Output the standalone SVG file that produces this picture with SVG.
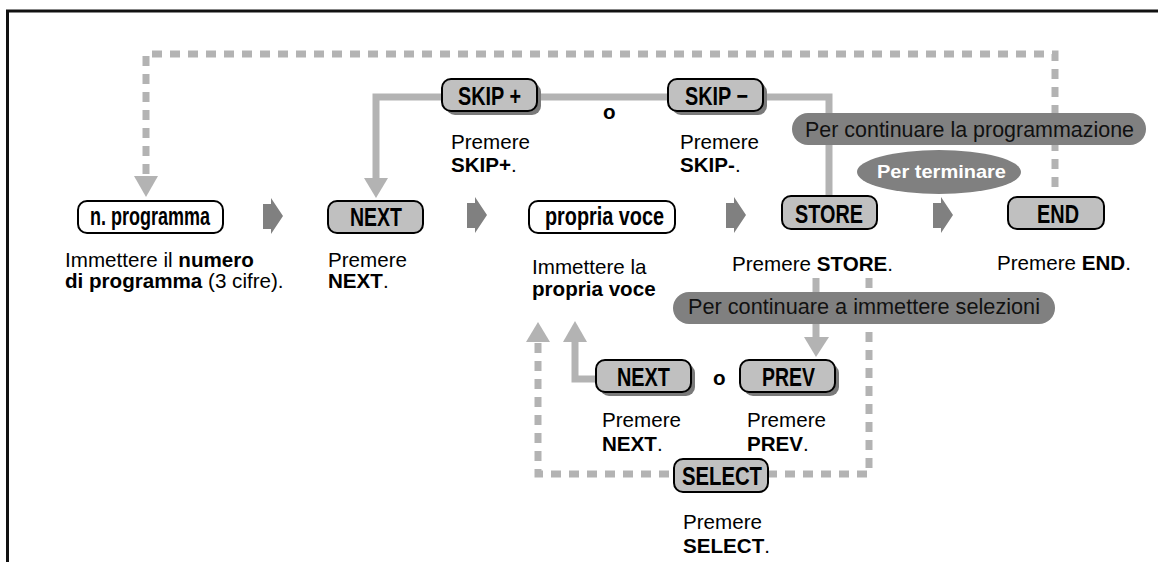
<svg xmlns="http://www.w3.org/2000/svg" width="1158" height="562" viewBox="0 0 1158 562">
<style>
.frame{fill:none;stroke:#111;stroke-width:3}
.btn{fill:#c0c0c0;stroke:#000;stroke-width:2}
.in{fill:#fff;stroke:#000;stroke-width:2}
.sh{fill:#7a7a7a}
.lbl{font-family:"Liberation Sans Narrow","Liberation Sans",Arial,sans-serif;font-weight:bold;font-size:26px;fill:#000}
.t{font-family:"Liberation Sans",Arial,sans-serif;font-size:20.6px;fill:#000}
.b{font-weight:bold}
.ln{fill:none;stroke:#b3b3b3;stroke-width:7}
.dash{stroke-dasharray:10 8}
.ah{fill:#b3b3b3}
.pill{fill:#808080}
.chev{fill:#808080}
.pt{font-family:"Liberation Sans",Arial,sans-serif;font-size:22px;fill:#111}
.pw{font-family:"Liberation Sans",Arial,sans-serif;font-size:19px;font-weight:bold;fill:#fff}
</style>
<defs>
<polygon id="chev" points="0,6 8,6 8,0 20,18 8,36 8,31 0,31"/>
</defs>
<rect width="1158" height="562" fill="#fff"/>
<path class="frame" d="M7.5,562 V11 H1158"/>

<g id="connectors">
<path class="ln dash" d="M1055,187 V54 H146 V176"/>
<polygon class="ah" points="134,176 158,176 146,197"/>
<path class="ln" d="M829,196 V97 H376 V178"/>
<polygon class="ah" points="364,178 388,178 376,198"/>
<path class="ln" d="M816,278 V337"/>
<polygon class="ah" points="804,337 829,337 816,357"/>
<path class="ln dash" d="M869,278 V474 H538 V342"/>
<polygon class="ah" points="526,342 550,342 538,322"/>
<path class="ln" d="M596,379 H575 V342"/>
<polygon class="ah" points="563,342 587,342 575,321"/>
<use href="#chev" class="chev" x="263" y="198"/>
<use href="#chev" class="chev" x="467" y="197"/>
<use href="#chev" class="chev" x="726" y="197"/>
<use href="#chev" class="chev" x="933" y="197"/>
</g>

<g id="pill-continue-prog">
<rect class="pill" x="792" y="113" width="354" height="32" rx="16"/>
<text class="pt" x="805" y="137" textLength="329" lengthAdjust="spacingAndGlyphs">Per continuare la programmazione</text>
</g>
<g id="pill-terminate">
<ellipse class="pill" cx="939" cy="172" rx="82" ry="22"/>
<text class="pw" x="877" y="178" textLength="129" lengthAdjust="spacingAndGlyphs">Per terminare</text>
</g>
<g id="pill-continue-sel">
<rect class="pill" x="673" y="292" width="382" height="32" rx="16"/>
<text class="pt" x="688" y="314" textLength="352" lengthAdjust="spacingAndGlyphs">Per continuare a immettere selezioni</text>
</g>

<g id="n-programma">
<rect class="in" x="78" y="201" width="145" height="32" rx="9"/>
<text class="lbl" x="90" y="225" textLength="120" lengthAdjust="spacingAndGlyphs">n. programma</text>
<text class="t" x="65" y="267">Immettere il <tspan class="b">numero</tspan></text>
<text class="t" x="65" y="288"><tspan class="b">di programma</tspan> (3 cifre).</text>
</g>

<g id="next-top">
<rect class="btn" x="328" y="201" width="95" height="32" rx="9"/>
<text class="lbl" x="350" y="226" textLength="52" lengthAdjust="spacingAndGlyphs">NEXT</text>
<text class="t" x="328" y="267">Premere</text>
<text class="t" x="328" y="288"><tspan class="b">NEXT</tspan>.</text>
</g>

<g id="skip-plus">
<rect class="sh" x="446" y="83" width="95" height="32" rx="9"/>
<rect class="btn" x="442" y="79" width="95" height="32" rx="9"/>
<text class="lbl" x="458" y="105" textLength="63" lengthAdjust="spacingAndGlyphs">SKIP +</text>
<text class="t" x="451" y="149">Premere</text>
<text class="t" x="451" y="172"><tspan class="b">SKIP+</tspan>.</text>
</g>

<text class="t b" x="603" y="119" font-size="19">o</text>

<g id="skip-minus">
<rect class="sh" x="672" y="83" width="95" height="32" rx="9"/>
<rect class="btn" x="668" y="79" width="95" height="32" rx="9"/>
<text class="lbl" x="685" y="105" textLength="63" lengthAdjust="spacingAndGlyphs">SKIP −</text>
<text class="t" x="680" y="149">Premere</text>
<text class="t" x="680" y="172"><tspan class="b">SKIP-</tspan>.</text>
</g>

<g id="propria-voce">
<rect class="in" x="529" y="201" width="146" height="32" rx="9"/>
<text class="lbl" x="545" y="225" textLength="119" lengthAdjust="spacingAndGlyphs">propria voce</text>
<text class="t" x="532" y="274">Immettere la</text>
<text class="t b" x="532" y="296">propria voce</text>
</g>

<g id="store">
<rect class="btn" x="782" y="196" width="95" height="33" rx="9"/>
<text class="lbl" x="795" y="223" textLength="68" lengthAdjust="spacingAndGlyphs">STORE</text>
<text class="t" x="732" y="271">Premere <tspan class="b">STORE</tspan>.</text>
</g>

<g id="end">
<rect class="btn" x="1008" y="197" width="96" height="32" rx="9"/>
<text class="lbl" x="1037" y="223" textLength="42" lengthAdjust="spacingAndGlyphs">END</text>
<text class="t" x="997" y="270">Premere <tspan class="b">END</tspan>.</text>
</g>

<g id="next-bottom">
<rect class="sh" x="600" y="364" width="95" height="32" rx="9"/>
<rect class="btn" x="596" y="360" width="95" height="32" rx="9"/>
<text class="lbl" x="617" y="386" textLength="53" lengthAdjust="spacingAndGlyphs">NEXT</text>
<text class="t" x="602" y="427">Premere</text>
<text class="t" x="602" y="451"><tspan class="b">NEXT</tspan>.</text>
</g>

<text class="t b" x="713" y="385" font-size="19">o</text>

<g id="prev">
<rect class="sh" x="744" y="364" width="95" height="32" rx="9"/>
<rect class="btn" x="740" y="360" width="95" height="32" rx="9"/>
<text class="lbl" x="762" y="386" textLength="53" lengthAdjust="spacingAndGlyphs">PREV</text>
<text class="t" x="747" y="427">Premere</text>
<text class="t" x="747" y="451"><tspan class="b">PREV</tspan>.</text>
</g>

<g id="select">
<rect class="btn" x="674" y="459" width="94" height="33" rx="9"/>
<text class="lbl" x="682" y="485" textLength="80" lengthAdjust="spacingAndGlyphs">SELECT</text>
<text class="t" x="683" y="529">Premere</text>
<text class="t" x="683" y="553"><tspan class="b">SELECT</tspan>.</text>
</g>
</svg>
